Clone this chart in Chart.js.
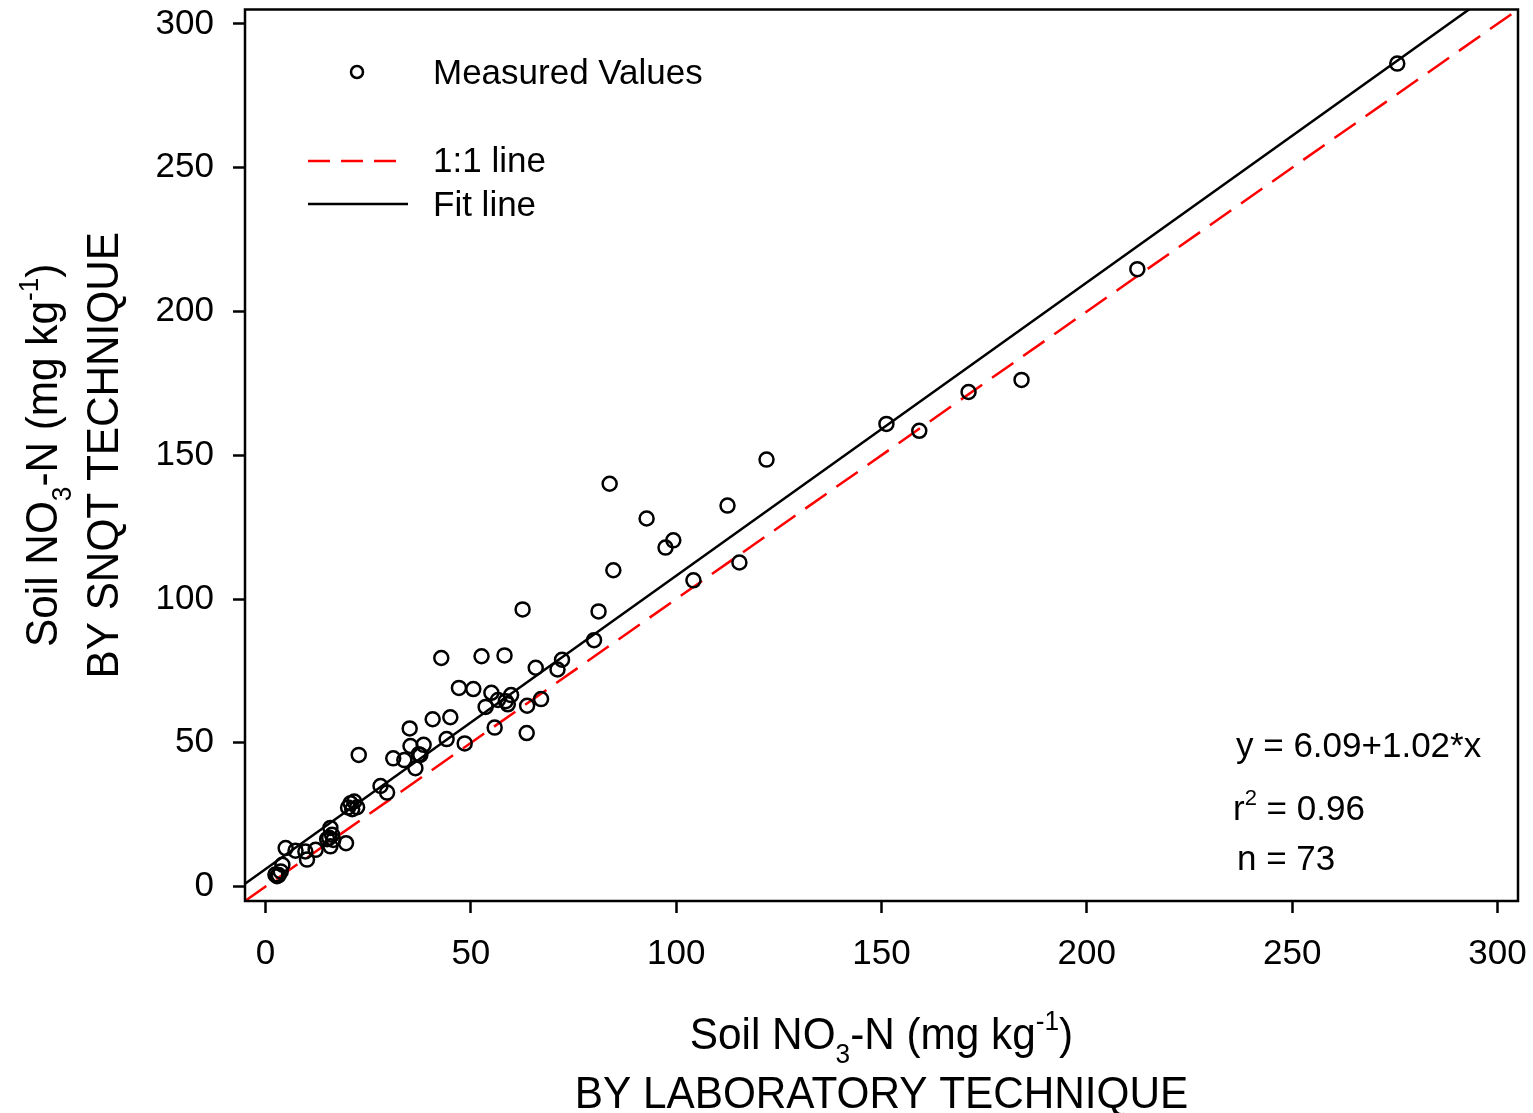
<!DOCTYPE html>
<html>
<head>
<meta charset="utf-8">
<script src="https://cdn.jsdelivr.net/npm/chart.js@4.4.0/dist/chart.umd.min.js"></script>
<style>
body{margin:0;background:#fff;}
#wrap{width:1533px;height:1113px;}
</style>
</head>
<body>
<div id="wrap"><canvas id="soilChart" width="1533" height="1113"></canvas></div>
<script>
// soil NO3-N, lab technique (x) vs SNQT technique (y), mg kg-1
const labValues = [275.6, 212.3, 184.1, 171.2, 159.2, 151.2, 122.0, 115.4, 112.5, 104.2,
    99.3, 97.4, 92.8, 84.7, 83.8, 81.1, 80.0, 72.2, 71.1, 67.1,
    65.8, 62.6, 63.7, 63.6, 59.8, 59.0, 58.5, 58.2, 56.6, 55.0,
    55.8, 53.6, 52.6, 50.6, 48.5, 47.1, 45.0, 44.1, 42.8, 40.7,
    38.5, 37.3, 37.7, 36.5, 35.3, 35.1, 33.8, 31.1, 29.6, 28.0,
    22.7, 22.3, 21.1, 20.7, 20.1, 21.6, 19.6, 16.2, 15.8, 15.5,
    16.5, 15.8, 15.0, 12.2, 10.1, 9.7, 7.3, 4.9, 4.1, 3.7,
    2.4, 2.8, 3.2];
const snqtValues = [286.2, 214.7, 176.2, 172.0, 158.5, 160.9, 148.5, 112.7, 132.5, 106.5,
    120.4, 117.9, 128.0, 110.0, 140.1, 95.7, 85.7, 78.9, 75.5, 65.2,
    76.1, 96.4, 62.9, 53.4, 66.6, 63.4, 64.5, 80.4, 64.9, 67.4,
    55.3, 62.5, 80.1, 68.7, 49.8, 69.1, 58.9, 51.3, 79.5, 58.2,
    49.3, 46.0, 45.8, 41.2, 48.9, 55.0, 44.0, 44.6, 32.7, 35.0,
    45.8, 27.6, 26.9, 29.0, 27.5, 29.6, 15.1, 18.0, 20.4, 17.0,
    16.2, 14.0, 16.5, 12.8, 9.4, 12.2, 12.5, 13.4, 7.6, 5.3,
    4.2, 3.6, 4.0];
const tickValues = [0, 50, 100, 150, 200, 250, 300];
const axisMin = -5, axisMax = 305;
const fitIntercept = 6.09, fitSlope = 1.02, rSquared = '0.96';
const lineEnds = [-5, 305];

const FONT = "'Liberation Sans', Arial, sans-serif";
Chart.defaults.font.family = FONT;
Chart.defaults.color = '#000';

const points = labValues.map((x, i) => ({x: x, y: snqtValues[i]}));
const oneToOne = lineEnds.map(v => ({x: v, y: v}));
const fitLine = lineEnds.map(v => ({x: v, y: fitIntercept + fitSlope * v}));

// text with sub/superscripts, centred on x (slightly condensed like the original)
function drawRich(ctx, parts, x, y, size, squeeze) {
    const small = size * 0.62;
    let total = 0;
    parts.forEach(p => {
        ctx.font = (p.s ? small : size) + 'px ' + FONT;
        total += ctx.measureText(p.t).width;
    });
    ctx.save();
    ctx.translate(x, y);
    ctx.scale(squeeze, 1);
    let cx = -total / 2;
    ctx.textAlign = 'left';
    ctx.textBaseline = 'alphabetic';
    parts.forEach(p => {
        ctx.font = (p.s ? small : size) + 'px ' + FONT;
        let dy = 0;
        if (p.s === 'sub') dy = size * 0.3;
        if (p.s === 'sup') dy = -size * 0.42;
        ctx.fillText(p.t, cx, dy);
        cx += ctx.measureText(p.t).width;
    });
    ctx.restore();
}

const unitTitle = [{t: 'Soil NO'}, {t: '3', s: 'sub'}, {t: '-N (mg kg'}, {t: '-1', s: 'sup'}, {t: ')'}];

const decorPlugin = {
    id: 'decor',
    afterDraw(chart) {
        const ctx = chart.ctx;
        const a = chart.chartArea;
        ctx.save();
        // box round plot
        ctx.strokeStyle = '#000';
        ctx.lineWidth = 2.5;
        ctx.strokeRect(a.left, a.top, a.right - a.left, a.bottom - a.top);

        ctx.fillStyle = '#000';
        // x title
        const cxm = (a.left + a.right) / 2;
        drawRich(ctx, unitTitle, cxm, 1049, 45, 0.94);
        drawRich(ctx, [{t: 'BY LABORATORY TECHNIQUE'}], cxm, 1108, 45, 0.94);
        // y title
        const cym = (a.top + a.bottom) / 2;
        ctx.save();
        ctx.translate(57, cym);
        ctx.rotate(-Math.PI / 2);
        drawRich(ctx, unitTitle, 0, 0, 45, 0.94);
        ctx.restore();
        ctx.save();
        ctx.translate(118, cym);
        ctx.rotate(-Math.PI / 2);
        drawRich(ctx, [{t: 'BY SNQT TECHNIQUE'}], 0, 0, 45, 0.94);
        ctx.restore();

        // legend
        const ds = chart.data.datasets;
        ctx.font = '35px ' + FONT;
        ctx.textAlign = 'left';
        ctx.textBaseline = 'alphabetic';
        ctx.beginPath();
        ctx.arc(357, 72, 6, 0, Math.PI * 2);
        ctx.lineWidth = 2.5;
        ctx.strokeStyle = '#000';
        ctx.stroke();
        ctx.fillText(ds[0].label, 433, 84);

        ctx.beginPath();
        ctx.setLineDash([22, 11]);
        ctx.strokeStyle = ds[1].borderColor;
        ctx.lineWidth = 2.5;
        ctx.moveTo(308, 161);
        ctx.lineTo(402, 161);
        ctx.stroke();
        ctx.setLineDash([]);
        ctx.fillText(ds[1].label, 433, 172);

        ctx.beginPath();
        ctx.strokeStyle = ds[2].borderColor;
        ctx.moveTo(308, 204);
        ctx.lineTo(408, 204);
        ctx.stroke();
        ctx.fillText(ds[2].label, 433, 216);

        // regression note
        ctx.font = '35px ' + FONT;
        ctx.fillText('y = ' + fitIntercept.toFixed(2) + '+' + fitSlope.toFixed(2) + '*x', 1236, 757);
        ctx.fillText('r', 1233, 820);
        const rw = ctx.measureText('r').width;
        ctx.font = '22px ' + FONT;
        ctx.fillText('2', 1233 + rw, 805);
        const sw = ctx.measureText('2').width;
        ctx.font = '35px ' + FONT;
        ctx.fillText(' = ' + rSquared, 1233 + rw + sw, 820);
        ctx.fillText('n = ' + labValues.length, 1237, 870);
        ctx.restore();
    }
};

function setTicks(scale) {
    scale.ticks = tickValues.map(v => ({value: v}));
}

new Chart(document.getElementById('soilChart'), {
    type: 'scatter',
    data: {
        datasets: [
            {
                label: 'Measured Values',
                data: points,
                pointStyle: 'circle',
                pointRadius: 7,
                pointBorderWidth: 2.5,
                borderColor: '#000',
                backgroundColor: 'rgba(0,0,0,0)',
                showLine: false
            },
            {
                label: '1:1 line',
                type: 'line',
                data: oneToOne,
                borderColor: '#ff0000',
                borderWidth: 2.5,
                borderDash: [26, 12],
                pointRadius: 0,
                fill: false,
                clip: 0
            },
            {
                label: 'Fit line',
                type: 'line',
                data: fitLine,
                borderColor: '#000',
                borderWidth: 2.5,
                pointRadius: 0,
                fill: false,
                clip: 0
            }
        ]
    },
    options: {
        responsive: false,
        animation: false,
        events: [],
        layout: {padding: {top: 8, right: 15, left: 0, bottom: 0}},
        plugins: {legend: {display: false}, tooltip: {enabled: false}},
        scales: {
            x: {
                type: 'linear',
                min: axisMin,
                max: axisMax,
                afterBuildTicks: setTicks,
                afterFit(s) { s.height = 212; s.paddingLeft = 0; s.paddingRight = 0; },
                grid: {drawOnChartArea: false, drawTicks: true, tickLength: 12, tickColor: '#000', tickWidth: 2.5},
                border: {display: false},
                ticks: {font: {size: 35}, padding: 20, color: '#000', maxRotation: 0}
            },
            y: {
                type: 'linear',
                min: axisMin,
                max: axisMax,
                afterBuildTicks: setTicks,
                afterFit(s) { s.width = 245; s.paddingTop = 0; s.paddingBottom = 0; },
                grid: {drawOnChartArea: false, drawTicks: true, tickLength: 12, tickColor: '#000', tickWidth: 2.5},
                border: {display: false},
                ticks: {font: {size: 35}, padding: 19, color: '#000'}
            }
        }
    },
    plugins: [decorPlugin]
});
</script>
</body>
</html>
